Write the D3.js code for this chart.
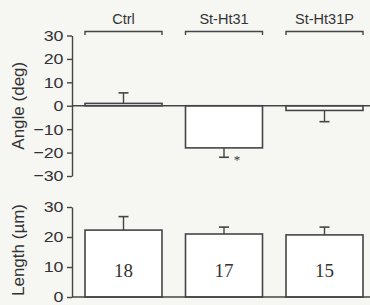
<!DOCTYPE html>
<html><head><meta charset="utf-8">
<script src="https://cdn.jsdelivr.net/npm/d3@7"></script>
<style>body{margin:0;background:#f6f6f3;}svg{display:block;}</style>
</head><body>
<svg id="c" width="370" height="305"></svg>
<script>
const groups = ["Ctrl", "St-Ht31", "St-Ht31P"];
const angleMean = [1, -18, -2];
const angleErr = [4.5, 4, 4.8];
const lengthMean = [22.3, 21, 20.7];
const lengthErr = [4.5, 2.3, 2.6];
const counts = ["18", "17", "15"];
const angleTicks = [30, 20, 10, 0, -10, -20, -30];
const lengthTicks = [30, 20, 10, 0];

const svg = d3.select("#c");
const ink = "#454545";
const txt = "#333";
const axisX = 72;
const sx = 1.15;

const x = d3.scaleBand().domain(groups).range([85, 363]).paddingInner(0.234).paddingOuter(0);
const yA = d3.scaleLinear().domain([-30, 30]).range([176, 35.5]);
const yL = d3.scaleLinear().domain([0, 30]).range([297, 207]);

function axis(scale, ticks) {
  const g = svg.append("g").attr("transform", `translate(${axisX},0)`)
    .call(d3.axisLeft(scale).tickValues(ticks).tickSize(5).tickSizeOuter(0).tickPadding(3));
  g.select(".domain").attr("stroke", ink).attr("stroke-width", 1.4);
  g.selectAll(".tick line").attr("stroke", ink).attr("stroke-width", 1.4);
  g.selectAll(".tick text").attr("fill", txt)
    .attr("font-family", "Liberation Sans, Arial").attr("font-size", 15.5)
    .attr("x", -8.5 / sx).attr("transform", `scale(${sx},1)`);
  return g;
}
axis(yA, angleTicks);
axis(yL, lengthTicks);

// top panel bars
svg.append("g").selectAll("rect").data(groups).join("rect")
  .attr("x", d => x(d)).attr("width", x.bandwidth())
  .attr("y", (d, i) => yA(Math.max(0, angleMean[i])))
  .attr("height", (d, i) => Math.abs(yA(angleMean[i]) - yA(0)))
  .attr("fill", "#fff").attr("stroke", ink).attr("stroke-width", 1.6);

// error bars top
groups.forEach((d, i) => {
  const cx = x(d) + x.bandwidth() / 2;
  const v = angleMean[i], e = v >= 0 ? v + angleErr[i] : v - angleErr[i];
  svg.append("line").attr("x1", cx).attr("x2", cx).attr("y1", yA(v)).attr("y2", yA(e)).attr("stroke", ink).attr("stroke-width", 1.4);
  svg.append("line").attr("x1", cx - 5).attr("x2", cx + 5).attr("y1", yA(e)).attr("y2", yA(e)).attr("stroke", ink).attr("stroke-width", 1.6);
});
// zero line
svg.append("line").attr("x1", axisX).attr("x2", 370).attr("y1", yA(0)).attr("y2", yA(0)).attr("stroke", ink).attr("stroke-width", 1.4);

// asterisk
svg.append("text").attr("x", x("St-Ht31") + x.bandwidth() / 2 + 13).attr("y", yA(angleMean[1] - angleErr[1]) + 7)
  .attr("text-anchor", "middle")
  .attr("font-family", "Liberation Serif").attr("font-size", 13).attr("fill", "#333").text("*");

// brackets + labels
groups.forEach(d => {
  const x0 = x(d), x1 = x(d) + x.bandwidth(), yb = 31.5;
  svg.append("path").attr("d", `M${x0},${yb + 3.5}V${yb}H${x1}V${yb + 3.5}`).attr("fill", "none").attr("stroke", ink).attr("stroke-width", 1.4);
  svg.append("text").attr("x", (x0 + x1) / 2).attr("y", 24).attr("text-anchor", "middle")
    .attr("font-family", "Liberation Sans, Arial").attr("font-size", 14.5).attr("fill", txt).text(d);
});

// bottom panel
svg.append("g").selectAll("rect").data(groups).join("rect")
  .attr("x", d => x(d)).attr("width", x.bandwidth())
  .attr("y", (d, i) => yL(lengthMean[i]))
  .attr("height", (d, i) => yL(0) - yL(lengthMean[i]))
  .attr("fill", "#fff").attr("stroke", ink).attr("stroke-width", 1.6);
groups.forEach((d, i) => {
  const cx = x(d) + x.bandwidth() / 2;
  const v = lengthMean[i], e = v + lengthErr[i];
  svg.append("line").attr("x1", cx).attr("x2", cx).attr("y1", yL(v)).attr("y2", yL(e)).attr("stroke", ink).attr("stroke-width", 1.4);
  svg.append("line").attr("x1", cx - 5).attr("x2", cx + 5).attr("y1", yL(e)).attr("y2", yL(e)).attr("stroke", ink).attr("stroke-width", 1.6);
  svg.append("text").attr("x", cx).attr("y", 277).attr("text-anchor", "middle")
    .attr("font-family", "Liberation Serif, Times New Roman").attr("font-size", 19).attr("fill", "#333").text(counts[i]);
});
svg.append("line").attr("x1", axisX).attr("x2", 370).attr("y1", yL(0)).attr("y2", yL(0)).attr("stroke", ink).attr("stroke-width", 1.6);

// axis titles
svg.append("text").attr("transform", `translate(24,${yA(0)}) rotate(-90)`).attr("text-anchor", "middle")
  .attr("font-family", "Liberation Sans, Arial").attr("font-size", 17).attr("fill", txt).text("Angle (deg)");
svg.append("text").attr("transform", `translate(24,${yL(15) - 2}) rotate(-90)`).attr("text-anchor", "middle")
  .attr("font-family", "Liberation Sans, Arial").attr("font-size", 17).attr("fill", txt).text("Length (µm)");
</script>
</body></html>
